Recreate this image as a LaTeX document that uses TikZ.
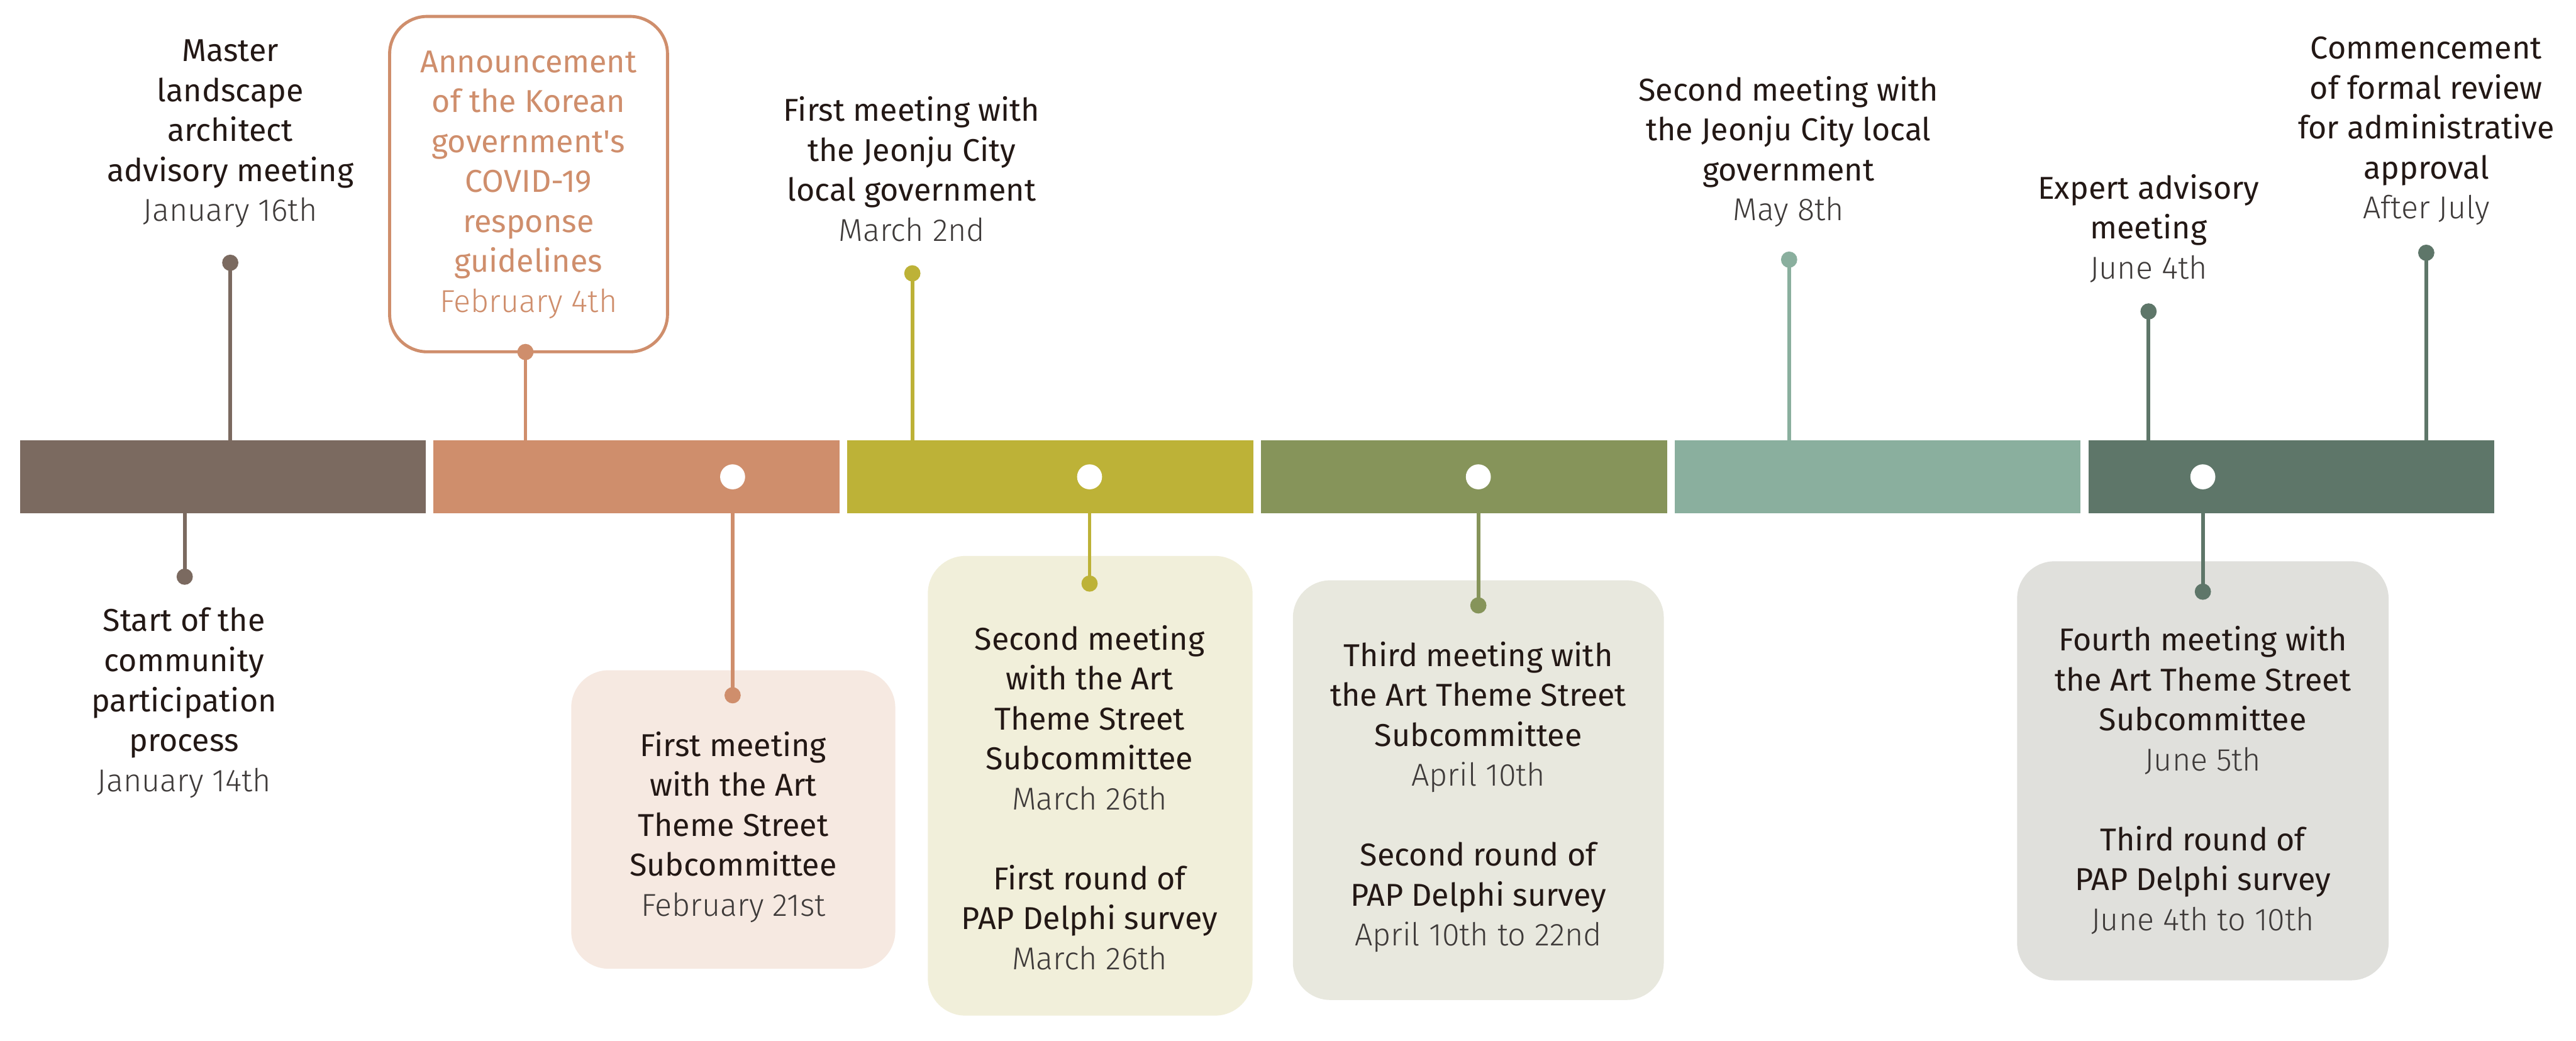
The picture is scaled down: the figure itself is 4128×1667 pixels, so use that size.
\documentclass[tikz,border=0pt]{standalone}
\usepackage{fontspec}
\setmainfont{Fira Sans}
\newfontfamily\lightfont{Fira Sans Light}
\definecolor{cA}{HTML}{7B6A60}
\definecolor{cB}{HTML}{CF8E6C}
\definecolor{cC}{HTML}{BDB237}
\definecolor{cD}{HTML}{86945A}
\definecolor{cE}{HTML}{8AAF9E}
\definecolor{cF}{HTML}{5E7669}
\definecolor{fB}{HTML}{F6E9E1}
\definecolor{fC}{HTML}{F1EFDA}
\definecolor{fD}{HTML}{E8E8DE}
\definecolor{fF}{HTML}{E0E0DC}
\definecolor{tdark}{HTML}{231815}
\definecolor{tgray}{HTML}{3E3A39}
\newcommand{\dt}[1]{{\lightfont\color{tgray}#1}}
\begin{document}
\begin{tikzpicture}[x=0.01cm,y=-0.01cm,
  seg/.style={draw=none, minimum width=6.5cm, minimum height=1.16cm, inner sep=0},
  wdot/.style={circle, fill=white, minimum size=0.4cm, inner sep=0},
  pin/.style={circle, minimum size=0.26cm, inner sep=0},
  conn/.style={line width=1.7pt},
  lbl/.style={align=center, inner sep=0, text=tdark, font=\fontsize{14.4}{18.2}\selectfont},
  box/.style={rounded corners=0.6cm, inner sep=0, draw=none}]
\fill[white] (0,0) rectangle (4128,1667);
\useasboundingbox (0,0) rectangle (4128,1667);
% bar segments
\node[seg, fill=cA] (s1) at (357,764) {};
\node[seg, fill=cB] (s2) at (1020,764) {};
\node[seg, fill=cC] (s3) at (1683,764) {};
\node[seg, fill=cD] (s4) at (2346,764) {};
\node[seg, fill=cE] (s5) at (3009,764) {};
\node[seg, fill=cF] (s6) at (3672,764) {};
\node[wdot] (w2) at (1174,764) {};
\node[wdot] (w3) at (1746,764) {};
\node[wdot] (w4) at (2369,764) {};
\node[wdot] (w6) at (3530,764) {};
% boxes
\node[box, fill=fB, minimum width=5.19cm, minimum height=4.78cm] (b2) at (1175,1313) {};
\node[box, fill=fC, minimum width=5.20cm, minimum height=7.36cm] (b3) at (1747,1259) {};
\node[box, fill=fD, minimum width=5.94cm, minimum height=6.72cm] (b4) at (2369,1266) {};
\node[box, fill=fF, minimum width=5.95cm, minimum height=6.71cm] (b6) at (3530,1235) {};
\node[box, draw=cB, line width=1.4pt, fill=white, minimum width=4.45cm, minimum height=5.37cm] (b1) at (847,295) {};
% pins
\node[pin, fill=cA] (p1) at (369,421) {};
\node[pin, fill=cA] (p2) at (296,924) {};
\node[pin, fill=cB] (p3) at (842,564) {};
\node[pin, fill=cB] (p4) at (1174,1114) {};
\node[pin, fill=cC] (p5) at (1462,438) {};
\node[pin, fill=cC] (p6) at (1746,935) {};
\node[pin, fill=cD] (p7) at (2369,970) {};
\node[pin, fill=cE] (p8) at (2867,416) {};
\node[pin, fill=cF] (p9) at (3443,499) {};
\node[pin, fill=cF] (p10) at (3888,405) {};
\node[pin, fill=cF] (p11) at (3530,948) {};
% connectors
\draw[conn, cA] (p1.center) -- (p1 |- s1.north);
\draw[conn, cA] (s1.south -| p2) -- (p2.center);
\draw[conn, cB] (p3.center) -- (p3 |- s2.north);
\draw[conn, cB] (s2.south -| p4) -- (p4.center);
\draw[conn, cC] (p5.center) -- (p5 |- s3.north);
\draw[conn, cC] (s3.south -| p6) -- (p6.center);
\draw[conn, cD] (s4.south -| p7) -- (p7.center);
\draw[conn, cE] (p8.center) -- (p8 |- s5.north);
\draw[conn, cF] (p9.center) -- (p9 |- s6.north);
\draw[conn, cF] (p10.center) -- (p10 |- s6.north);
\draw[conn, cF] (s6.south -| p11) -- (p11.center);
% labels
\node[lbl] (t1) at (369,214) {Master\\landscape\\architect\\advisory meeting\\\dt{January 16th}};
\node[lbl, text=cB] (t2) at (847,296) {Announcement\\of the Korean\\government\textquotesingle s\\COVID-19\\response\\guidelines\\{\lightfont February 4th}};
\node[lbl] (t3) at (295,1126) {Start of the\\community\\participation\\process\\\dt{January 14th}};
\node[lbl] (t4) at (1175,1325) {First meeting\\with the Art\\Theme Street\\Subcommittee\\\dt{February 21st}};
\node[lbl] (t5) at (1461,271) {First meeting with\\the Jeonju City\\local government\\\dt{March 2nd}};
\node[lbl] (t6) at (1746,1278) {Second meeting\\with the Art\\Theme Street\\Subcommittee\\\dt{March 26th}\\[18.2pt]First round of\\PAP Delphi survey\\\dt{March 26th}};
\node[lbl] (t7) at (2369,1277) {Third meeting with\\the Art Theme Street\\Subcommittee\\\dt{April 10th}\\[18.2pt]Second round of\\PAP Delphi survey\\\dt{April 10th to 22nd}};
\node[lbl] (t8) at (2866,243) {Second meeting with\\the Jeonju City local\\government\\\dt{May 8th}};
\node[lbl] (t9) at (3443,366) {Expert advisory\\meeting\\\dt{June 4th}};
\node[lbl] (t10) at (3888,210) {Commencement\\of formal review\\for administrative\\approval\\\dt{After July}};
\node[lbl] (t11) at (3530,1250) {Fourth meeting with\\the Art Theme Street\\Subcommittee\\\dt{June 5th}\\[18.2pt]Third round of\\PAP Delphi survey\\\dt{June 4th to 10th}};
\end{tikzpicture}
\end{document}
